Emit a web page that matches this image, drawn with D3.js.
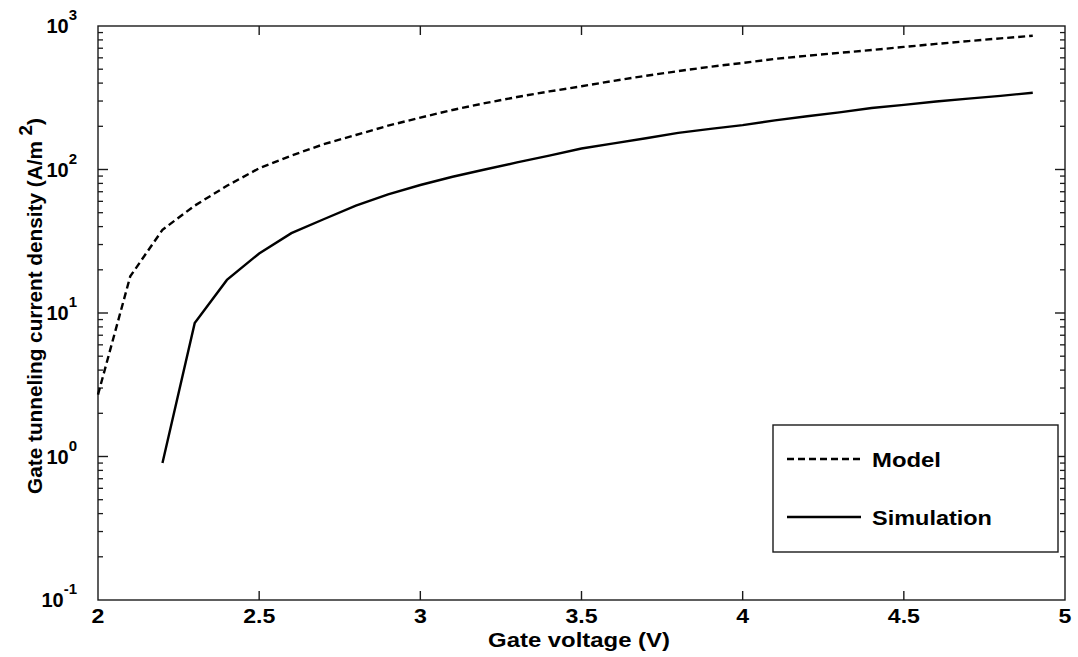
<!DOCTYPE html>
<html><head><meta charset="utf-8">
<script src="https://cdn.jsdelivr.net/npm/d3@7"></script>
<style>
body{margin:0;background:#fff;}
text{font-family:"Liberation Sans",Arial,sans-serif;font-weight:bold;fill:#000;}
</style></head>
<body><svg id="c" width="1078" height="657"></svg>
<script>
const modelV = [2.0,2.1,2.2,2.3,2.4,2.5,2.6,2.7,2.8,2.9,3.0,3.1,3.2,3.3,3.4,3.5,3.6,3.7,3.8,3.9,4.0,4.1,4.2,4.3,4.4,4.5,4.6,4.7,4.8,4.9];
const modelJ = [2.7,18,38,56,77,102,125,150,174,202,230,260,290,320,350,380,415,450,485,520,553,590,620,650,680,715,750,785,820,855];
const simV = [2.2,2.3,2.4,2.5,2.6,2.7,2.8,2.9,3.0,3.1,3.2,3.3,3.4,3.5,3.6,3.7,3.8,3.9,4.0,4.1,4.2,4.3,4.4,4.5,4.6,4.7,4.8,4.9];
const simJ = [0.9,8.5,17,26,36,45,56,67,78,89,100,112,125,140,152,165,180,192,204,220,235,250,268,282,298,312,326,343];
const xTicks = [2,2.5,3,3.5,4,4.5,5];
const yDecades = [-1,0,1,2,3];
const seriesNames = ["Model","Simulation"];

const L=98,R=1065,T=26,B=600;
const svg=d3.select("#c");
const x=d3.scaleLinear().domain([2,5]).range([L,R]);
const y=d3.scaleLog().domain([0.1,1000]).range([B,T]);

function fit(sel, cx, cy, target, rot){
  const w=sel.node().getBBox().width;
  const k=target/w;
  sel.attr("transform",`translate(${cx},${cy})`+(rot?` rotate(${rot})`:"")+` scale(${k},1)`);
}

const ax="#1a1a1a";
svg.append("rect").attr("x",L).attr("y",T).attr("width",R-L).attr("height",B-T)
  .attr("fill","none").attr("stroke",ax).attr("stroke-width",1.4);

xTicks.forEach(t=>{
  const px=x(t);
  if(t!==2 && t!==5){
    svg.append("line").attr("x1",px).attr("x2",px).attr("y1",B).attr("y2",B-9).attr("stroke",ax).attr("stroke-width",1.4);
    svg.append("line").attr("x1",px).attr("x2",px).attr("y1",T).attr("y2",T+9).attr("stroke",ax).attr("stroke-width",1.4);
  }
  const tt=svg.append("text").attr("x",0).attr("y",0).attr("text-anchor","middle")
    .attr("font-size",21).text(String(t));
  tt.attr("transform",`translate(${px},623) scale(1.1,1)`);
});

yDecades.forEach(d=>{
  const v=Math.pow(10,d);
  const py=y(v);
  if(d!==-1 && d!==3){
    svg.append("line").attr("x1",L).attr("x2",L+10).attr("y1",py).attr("y2",py).attr("stroke",ax).attr("stroke-width",1.4);
    svg.append("line").attr("x1",R).attr("x2",R-10).attr("y1",py).attr("y2",py).attr("stroke",ax).attr("stroke-width",1.4);
  }
  const tx=svg.append("text").attr("x",77).attr("y",py+7).attr("text-anchor","end").attr("font-size",20);
  tx.append("tspan").text("10");
  tx.append("tspan").attr("dy",-13).attr("font-size",15).text(String(d));
  if(d<3){
    for(let k=2;k<=9;k++){
      const my=y(k*v);
      svg.append("line").attr("x1",L).attr("x2",L+5).attr("y1",my).attr("y2",my).attr("stroke",ax).attr("stroke-width",1.3);
      svg.append("line").attr("x1",R).attr("x2",R-5).attr("y1",my).attr("y2",my).attr("stroke",ax).attr("stroke-width",1.3);
    }
  }
});

const line=d3.line().x(d=>x(d[0])).y(d=>y(d[1]));
svg.append("path").datum(modelV.map((v,i)=>[v,modelJ[i]])).attr("d",line)
  .attr("fill","none").attr("stroke","#000").attr("stroke-width",2.4).attr("stroke-dasharray","7,4");
svg.append("path").datum(simV.map((v,i)=>[v,simJ[i]])).attr("d",line)
  .attr("fill","none").attr("stroke","#000").attr("stroke-width",2.4);

const xl=svg.append("text").attr("text-anchor","middle").attr("font-size",20).text("Gate voltage (V)");
fit(xl,579,647,182);
const yl=svg.append("text").attr("text-anchor","middle").attr("font-size",20);
yl.append("tspan").text("Gate tunneling current density (A/m ");
yl.append("tspan").attr("dy",-10).attr("font-size",18).text("2");
yl.append("tspan").attr("dy",10).text(")");
fit(yl,42,306,376,-90);

svg.append("rect").attr("x",773).attr("y",425).attr("width",285).attr("height",127)
  .attr("fill","#fff").attr("stroke",ax).attr("stroke-width",1.4);
const leg=[{name:seriesNames[0],dash:"7,4",ly:459,w:69},{name:seriesNames[1],dash:null,ly:517,w:120}];
leg.forEach(s=>{
  const l=svg.append("line").attr("x1",787).attr("x2",861).attr("y1",s.ly).attr("y2",s.ly)
    .attr("stroke","#000").attr("stroke-width",2.4);
  if(s.dash) l.attr("stroke-dasharray",s.dash);
  const t=svg.append("text").attr("font-size",21).text(s.name);
  fit(t,872,s.ly+8,s.w);
});
</script></body></html>
